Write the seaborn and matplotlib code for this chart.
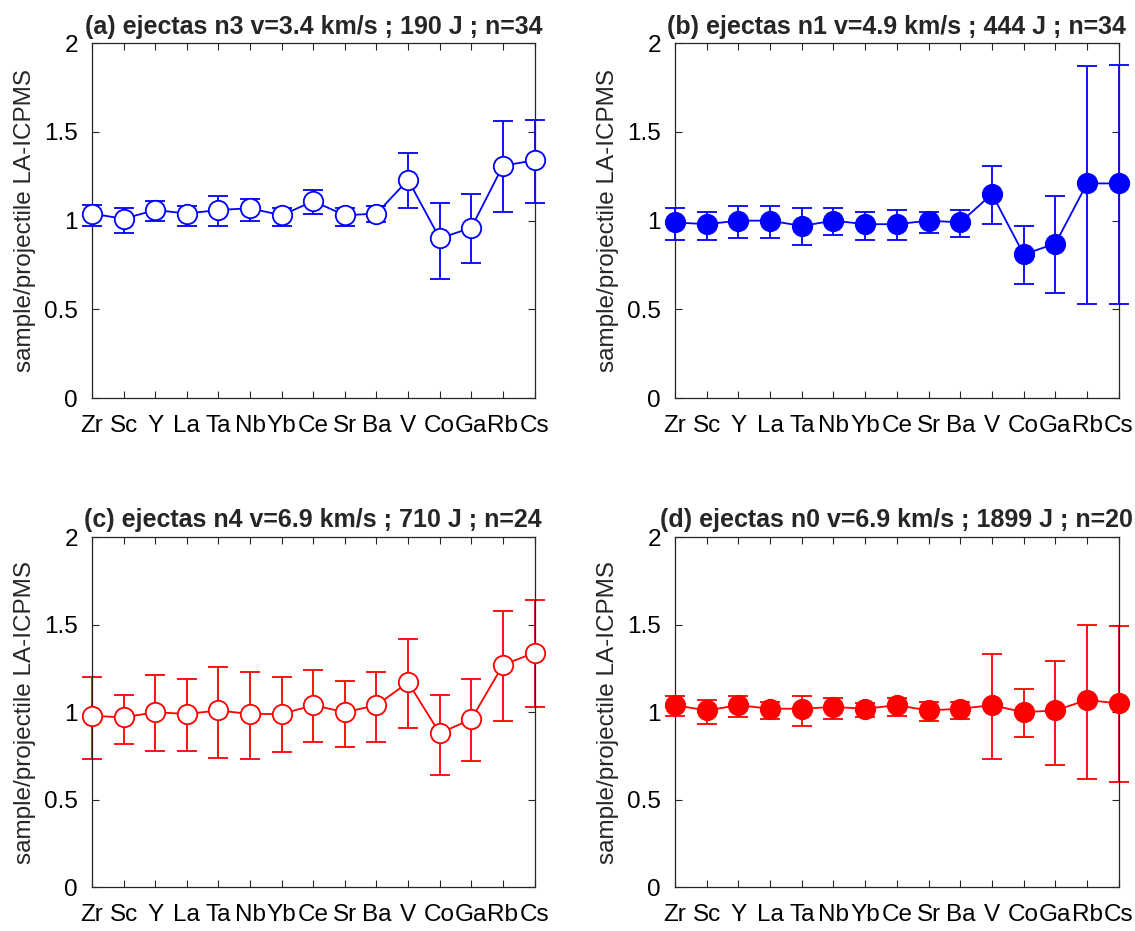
import numpy as np
import seaborn as sns
import matplotlib
matplotlib.use("Agg")
import matplotlib.pyplot as plt

# element order on the x axis
elements = ["Zr", "Sc", "Y", "La", "Ta", "Nb", "Yb", "Ce", "Sr", "Ba", "V", "Co", "Ga", "Rb", "Cs"]

# (a) ejectas n3
a_mean = [1.04, 1.01, 1.06, 1.04, 1.06, 1.07, 1.03, 1.11, 1.03, 1.04, 1.23, 0.90, 0.96, 1.31, 1.34]
a_lo = [0.97, 0.93, 1.00, 0.97, 0.97, 1.00, 0.97, 1.04, 0.97, 0.99, 1.07, 0.67, 0.76, 1.05, 1.10]
a_hi = [1.09, 1.07, 1.11, 1.08, 1.14, 1.12, 1.07, 1.17, 1.07, 1.08, 1.38, 1.10, 1.15, 1.56, 1.57]

# (b) ejectas n1
b_mean = [0.99, 0.98, 1.00, 1.00, 0.97, 1.00, 0.98, 0.98, 1.00, 0.99, 1.15, 0.81, 0.87, 1.21, 1.21]
b_lo = [0.89, 0.89, 0.90, 0.90, 0.86, 0.92, 0.89, 0.89, 0.93, 0.91, 0.98, 0.64, 0.59, 0.53, 0.53]
b_hi = [1.07, 1.05, 1.08, 1.08, 1.07, 1.07, 1.05, 1.06, 1.05, 1.06, 1.31, 0.97, 1.14, 1.87, 1.88]

# (c) ejectas n4
c_mean = [0.98, 0.97, 1.00, 0.99, 1.01, 0.99, 0.99, 1.04, 1.00, 1.04, 1.17, 0.88, 0.96, 1.27, 1.34]
c_lo = [0.73, 0.82, 0.78, 0.78, 0.74, 0.73, 0.77, 0.83, 0.80, 0.83, 0.91, 0.64, 0.72, 0.95, 1.03]
c_hi = [1.20, 1.10, 1.21, 1.19, 1.26, 1.23, 1.20, 1.24, 1.18, 1.23, 1.42, 1.10, 1.19, 1.58, 1.64]

# (d) ejectas n0
d_mean = [1.04, 1.01, 1.04, 1.02, 1.02, 1.03, 1.02, 1.04, 1.01, 1.02, 1.04, 1.00, 1.01, 1.07, 1.05]
d_lo = [0.98, 0.93, 0.97, 0.96, 0.92, 0.96, 0.97, 0.98, 0.95, 0.96, 0.73, 0.86, 0.70, 0.62, 0.60]
d_hi = [1.09, 1.07, 1.09, 1.06, 1.09, 1.08, 1.05, 1.08, 1.06, 1.06, 1.33, 1.13, 1.29, 1.50, 1.49]

titles = ["(a) ejectas n3 v=3.4 km/s ; 190 J ; n=34",
          "(b) ejectas n1 v=4.9 km/s ; 444 J ; n=34",
          "(c) ejectas n4 v=6.9 km/s ; 710 J ; n=24",
          "(d) ejectas n0 v=6.9 km/s ; 1899 J ; n=20"]

sns.set_theme(style="ticks")
plt.rcParams['font.family'] = ['Liberation Sans', 'DejaVu Sans']

fig = plt.figure(figsize=(11.35, 9.31), dpi=100)
boxes = [[0.081, 0.5725, 0.390, 0.381],
         [0.5947, 0.5725, 0.391, 0.381],
         [0.081, 0.047, 0.390, 0.376],
         [0.5947, 0.047, 0.391, 0.376]]
panels = [(a_mean, a_lo, a_hi, "blue", "white"),
          (b_mean, b_lo, b_hi, "blue", "blue"),
          (c_mean, c_lo, c_hi, "red", "white"),
          (d_mean, d_lo, d_hi, "red", "red")]

xs = np.arange(1, len(elements) + 1)
for box, (mean, lo, hi, col, face), title in zip(boxes, panels, titles):
    ax = fig.add_axes(box)
    mean = np.array(mean)
    yerr = [mean - np.array(lo), np.array(hi) - mean]
    eb = ax.errorbar(xs, mean, yerr=yerr, fmt="none", ecolor=col, elinewidth=1.3,
                     capsize=7, capthick=1.3, zorder=2)
    for part in eb.lines[1] + eb.lines[2]:
        part.set_clip_on(False)
    sns.lineplot(x=xs, y=mean, ax=ax, color=col, linewidth=1.3, marker="o",
                 markersize=14, markerfacecolor=face, markeredgecolor=col,
                 markeredgewidth=1.3, zorder=3, clip_on=False)
    ax.set_xlim(1, 15)
    ax.set_ylim(0, 2)
    ax.set_xticks(xs)
    ax.set_xticklabels(elements)
    ax.set_yticks([0, 0.5, 1, 1.5, 2])
    ax.set_yticklabels(["0", "0.5", "1", "1.5", "2"])
    ax.tick_params(direction="in", top=True, right=True, length=5, width=0.8,
                   labelsize=17.5, colors="#262626", labelcolor="black")
    ax.tick_params(axis="x", pad=12)
    ax.tick_params(axis="y", pad=10)
    for s in ax.spines.values():
        s.set_color("#262626")
        s.set_linewidth(0.9)
    ax.set_ylabel("sample/projectile LA-ICPMS", fontsize=17.5, labelpad=6)
    ax.set_title(title, fontsize=18, fontweight="bold", pad=7)

fig.savefig("out.png", dpi=100)
